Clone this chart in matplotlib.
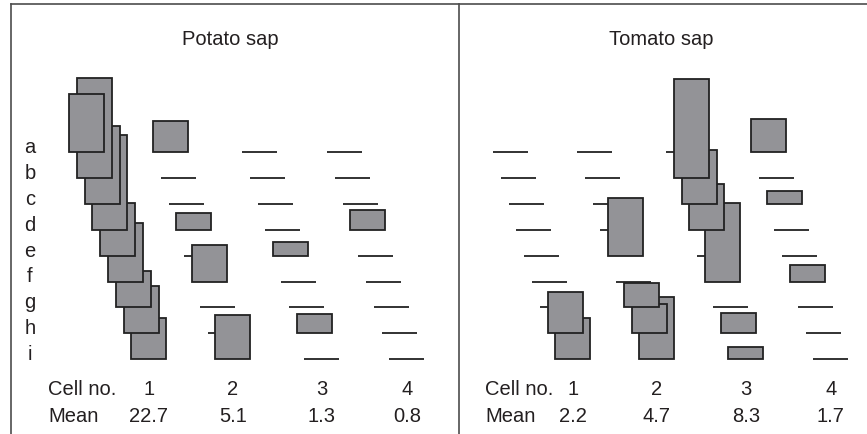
import matplotlib
matplotlib.use("Agg")
import matplotlib.pyplot as plt
from matplotlib.patches import Rectangle

plt.rcParams['font.family'] = ['Liberation Sans', 'DejaVu Sans']

# row labels and cell values (one list per cell column, rows a..i)
rows = ['a', 'b', 'c', 'd', 'e', 'f', 'g', 'h', 'i']
cell_no = ['1', '2', '3', '4']

potato_c1 = [21, 36, 28, 34, 19, 21, 13, 17, 15]
potato_c2 = [11, 0, 0, 6, 0, 13, 0, 0, 16]
potato_c3 = [0, 0, 0, 0, 5, 0, 0, 7, 0]
potato_c4 = [0, 0, 0, 7, 0, 0, 0, 0, 0]

tomato_c1 = [0, 0, 0, 0, 0, 0, 0, 10, 10]
tomato_c2 = [0, 0, 0, 0, 14, 0, 6, 7, 15]
tomato_c3 = [0, 24, 13, 11, 0, 19, 0, 5, 3]
tomato_c4 = [8, 0, 3, 0, 0, 4, 0, 0, 0]

# layout (pixel units of the 867x434 canvas)
W, H = 867, 434
row_y0, row_dy = 152, 25.9     # baseline of row a, spacing
skew = 7.8                     # shift right per row
box_w = 35
col_off = [0, 84, 173, 258]
fill = '#939397'
edge = '#222222'
txt = '#231f20'
fs = 14.5

fig = plt.figure(figsize=(W / 100, H / 100), dpi=100)
ax = fig.add_axes([0, 0, 1, 1])
ax.set_xlim(0, W)
ax.set_ylim(H, 0)
ax.axis('off')

# frame
ax.plot([11, W], [4, 4], color='#4d4d4d', lw=1.2)
ax.plot([11, 11], [4, H], color='#4d4d4d', lw=1.2)
ax.plot([459, 459], [4, H], color='#4d4d4d', lw=1.2)


def draw_panel(x0, cols, scale, title, title_x, label_x, show_rows):
    ax.text(title_x, 45, title, ha='center', va='baseline', fontsize=fs, color=txt)
    for c, vals in enumerate(cols):
        for r, v in enumerate(vals):
            x = x0 + col_off[c] + r * skew
            y = row_y0 + r * row_dy
            if v == 0:
                ax.plot([x, x + box_w], [y, y], color=edge, lw=1.3, zorder=1,
                        solid_capstyle='butt')
            else:
                h = v * scale
                ax.add_patch(Rectangle((x, y - h), box_w, h, facecolor=fill,
                                       edgecolor=edge, lw=1.3, zorder=10 - r * 0.5))
        xc = x0 + col_off[c] + 8 * skew + box_w / 2
        ax.text(xc, 395, cell_no[c], ha='center', va='baseline', fontsize=fs, color=txt)
        mean = sum(vals) / len(vals)
        ax.text(xc, 422, '%.1f' % mean, ha='center', va='baseline', fontsize=fs, color=txt)
    ax.text(label_x, 395, 'Cell no.', ha='left', va='baseline', fontsize=fs, color=txt)
    ax.text(label_x, 422, 'Mean', ha='left', va='baseline', fontsize=fs, color=txt)
    if show_rows:
        for r, lab in enumerate(rows):
            ax.text(30, row_y0 + r * row_dy + 1, lab, ha='center', va='baseline',
                    fontsize=fs, color=txt)


draw_panel(69, [potato_c1, potato_c2, potato_c3, potato_c4], 2.78,
           'Potato sap', 230, 48, True)
draw_panel(493, [tomato_c1, tomato_c2, tomato_c3, tomato_c4], 4.13,
           'Tomato sap', 661, 485, False)

fig.savefig('out.png', dpi=100)
